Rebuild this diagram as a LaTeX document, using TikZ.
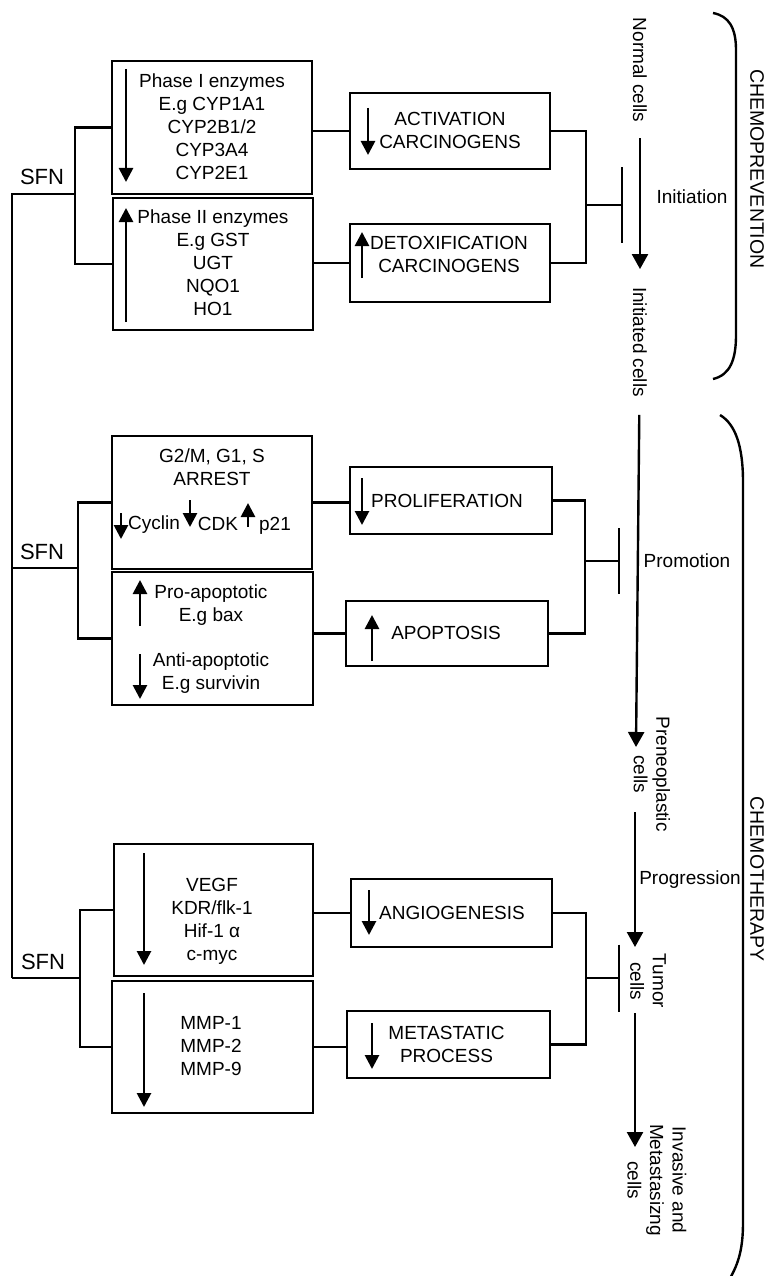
\documentclass[tikz,border=0pt]{standalone}
\usepackage{fontspec}
\setmainfont{Liberation Sans}
\usetikzlibrary{arrows.meta}
\begin{document}
\begin{tikzpicture}[x=1pt,y=-1pt,
  font=\fontsize{19pt}{23pt}\selectfont,
  box/.style={draw, line width=2.8pt, inner sep=0pt, outer sep=0pt},
  lbl/.style={align=center, inner sep=0pt, outer sep=0pt},
  rlbl/.style={lbl, rotate=-90, font=\fontsize{19pt}{22.5pt}\selectfont},
  conn/.style={line width=2.5pt},
  ind/.style={line width=2.7pt, -{Triangle[width=14pt,length=14pt]}},
  trunk/.style={line width=2.4pt, -{Triangle[width=16pt,length=15pt]}},
  tee/.style={conn, -{Bar[width=#1]}},
  brace/.style={line width=2.4pt},
  sfn/.style={lbl, font=\fontsize{22pt}{26pt}\selectfont},
  phase/.style={lbl, rotate=-90, font=\fontsize{19.5pt}{23pt}\selectfont}]
\useasboundingbox (0,0) rectangle (768,1276);

% ---------- boxes ----------
\node[box, minimum width=200pt, minimum height=133pt] (p1) at (212,127.5) {};
\node[box, minimum width=200pt, minimum height=132pt] (p2) at (213,264) {};
\node[box, minimum width=200pt, minimum height=76pt] (act) at (450,131) {};
\node[box, minimum width=200pt, minimum height=78pt] (det) at (450,263) {};
\node[box, minimum width=200pt, minimum height=133pt] (arr) at (212,502.5) {};
\node[box, minimum width=201pt, minimum height=133pt] (apo) at (212.5,638.5) {};
\node[box, minimum width=202pt, minimum height=67pt] (pro) at (451,500.5) {};
\node[box, minimum width=202pt, minimum height=65pt] (aps) at (447,633.5) {};
\node[box, minimum width=199pt, minimum height=132pt] (veg) at (213.5,910) {};
\node[box, minimum width=201pt, minimum height=132pt] (mmp) at (212.5,1047) {};
\node[box, minimum width=201pt, minimum height=68pt] (ang) at (451.5,913) {};
\node[box, minimum width=203pt, minimum height=67pt] (met) at (448.5,1044.5) {};

% ---------- box texts ----------
\node[lbl] (t1) at (212,127) {Phase I enzymes\\E.g CYP1A1\\CYP2B1/2\\CYP3A4\\CYP2E1};
\node[lbl] (t2) at (213,263) {Phase II enzymes\\E.g GST\\UGT\\NQO1\\HO1};
\node[lbl] (t3) at (450,130.5) {ACTIVATION\\CARCINOGENS};
\node[lbl] (t4) at (449,254.5) {DETOXIFICATION\\CARCINOGENS};
\node[lbl] (t5) at (212,467) {G2/M, G1, S\\ARREST};
\node[lbl] (tcyc) at (154,525) {Cyclin};
\node[lbl] (tcdk) at (218,524) {CDK};
\node[lbl] (tp21) at (275,526) {p21};
\node[lbl] (t6) at (211,605) {Pro-apoptotic\\E.g bax};
\node[lbl] (t7) at (211,673) {Anti-apoptotic\\E.g survivin};
\node[lbl] (t8) at (447,501) {PROLIFERATION};
\node[lbl] (t9) at (446,633) {APOPTOSIS};
\node[lbl] (t10) at (212,921) {VEGF\\KDR/flk-1\\Hif-1 α\\c-myc};
\node[lbl] (t11) at (211,1046.5) {MMP-1\\MMP-2\\MMP-9};
\node[lbl] (t12) at (452,913) {ANGIOGENESIS};
\node[lbl] (t13) at (446.5,1044) {METASTATIC\\PROCESS};

% ---------- indicator arrows in boxes ----------
\draw[ind] (126,69) -- (126,182);
\draw[ind] (126,322) -- (126,208);
\draw[ind] (368,108) -- (368,155);
\draw[ind] (362,278) -- (362,232);
\draw[ind] (121,513) -- (121,539);
\draw[ind] (190,500) -- (190,527);
\draw[ind] (248,527) -- (248,503);
\draw[ind] (140,626) -- (140,580);
\draw[ind] (140,654) -- (140,699);
\draw[ind] (362,478) -- (362,525);
\draw[ind] (372,661) -- (372,615);
\draw[ind] (144,853) -- (144,965);
\draw[ind] (144,993) -- (144,1107);
\draw[ind] (369,890) -- (369,935);
\draw[ind] (372,1023) -- (372,1069);

% ---------- SFN trunk and left brackets ----------
\node[sfn] (s1) at (42,177) {SFN};
\node[sfn] (s2) at (42,552) {SFN};
\node[sfn] (s3) at (43,962) {SFN};
\coordinate (k1) at (12,194);
\coordinate (k2) at (12,568);
\coordinate (k3) at (12,978);
\coordinate (l1) at (75,194);
\coordinate (l2) at (78,568);
\coordinate (l3) at (80,978);
\draw[conn] (k3) -- (k1) -- (l1);
\draw[conn] (k2) -- (l2);
\draw[conn] (k3) -- (l3);
\draw[conn] (p1.west) -| (l1) |- (p2.west);
\draw[conn] (arr.west) -| (l2) |- (apo.west);
\draw[conn] (veg.west) -| (l3) |- (mmp.west);

% ---------- box to box ----------
\draw[conn] (act.west -| p1.east) -- (act.west);
\draw[conn] (det.west -| p2.east) -- (det.west);
\draw[conn] (arr.east) -- (arr.east -| pro.west);
\draw[conn] (aps.west -| apo.east) -- (aps.west);
\draw[conn] (ang.west -| veg.east) -- (ang.west);
\draw[conn] (mmp.east) -- (mmp.east -| met.west);

% ---------- right brackets with inhibition bars ----------
\coordinate (r1) at (586,205);
\coordinate (r2) at (585,561);
\coordinate (r3) at (586,978);
\coordinate (b1) at (623,205);
\coordinate (b2) at (620,561);
\coordinate (b3) at (620,978);
\draw[conn] (act.east) -| (r1) |- (det.east);
\draw[conn] (pro.east) -| (r2) |- (aps.east);
\draw[conn] (ang.east) -| (r3) |- (met.east);
\draw[tee=75pt] (r1) -- (b1);
\draw[tee=66pt] (r2) -- (b2);
\draw[tee=67pt] (r3) -- (b3);

% ---------- cell stages ----------
\node[rlbl] (normal) at (640,70) {Normal cells};
\node[rlbl] (initiated) at (640,342) {Initiated cells};
\node[rlbl] (preneo) at (652,774) {Preneoplastic\\cells};
\node[rlbl] (tumor) at (648,981) {Tumor\\cells};
\node[rlbl] (invasive) at (657,1180) {Invasive and\\Metastasizng\\cells};
\node[lbl] (ini) at (692,197) {Initiation};
\node[lbl] (prom) at (687,561) {Promotion};
\node[lbl] (prog) at (690,880) {Progression};

\coordinate (e2) at (636,747);
\coordinate (s3a) at (635,812);
\coordinate (e3) at (635,947);
\coordinate (s4) at (635,1013);
\coordinate (e4) at (635,1147);
\draw[trunk, shorten <=16pt, shorten >=18pt] (normal) -- (initiated);
\draw[trunk, shorten <=18pt] (initiated) -- (e2);
\draw[trunk] (s3a) -- (e3);
\draw[trunk] (s4) -- (e4);

% ---------- phase braces ----------
\draw[brace] (713,13) .. controls (729,16) and (736,28) .. (736,50) -- (736,335)
  .. controls (736,360) and (730,375) .. (713,379);
\draw[brace] (720,415) .. controls (735,424) and (743,445) .. (743,482) -- (743,1222)
  .. controls (743,1248) and (739,1263) .. (729,1280);
\node[phase] (cp) at (757,169) {CHEMOPREVENTION};
\node[phase] (ct) at (757,879) {CHEMOTHERAPY};
\end{tikzpicture}
\end{document}
